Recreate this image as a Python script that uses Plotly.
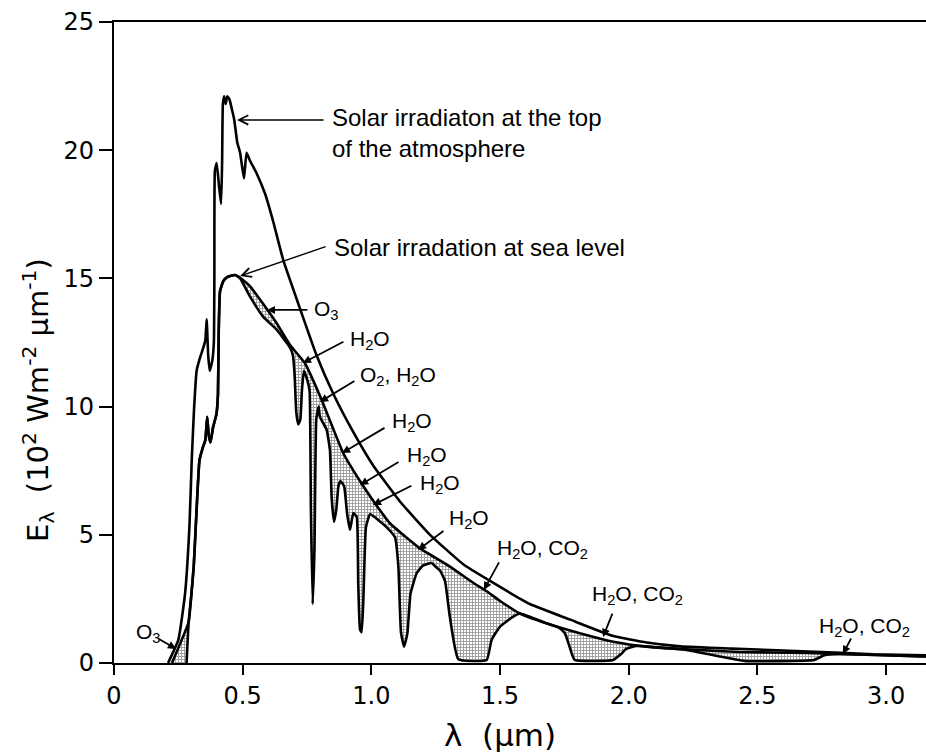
import plotly.graph_objects as go

# Wavelength (um) and spectral irradiance (10^2 W m^-2 um^-1)

# Extraterrestrial (top of atmosphere) spectrum
toa_x = [0.21, 0.25, 0.276, 0.293, 0.302, 0.311, 0.321, 0.334, 0.347, 0.355, 0.36, 0.366,
         0.372, 0.382, 0.388, 0.390, 0.392, 0.399, 0.408, 0.416, 0.420, 0.423, 0.428, 0.434,
         0.440, 0.448, 0.458, 0.467, 0.479, 0.490, 0.505, 0.515, 0.528, 0.554, 0.587, 0.619,
         0.658, 0.72, 0.787, 0.852, 0.93, 1.007, 1.111, 1.228, 1.357, 1.461, 1.616, 1.77,
         1.94, 2.07, 2.2, 2.4, 2.7, 2.95, 3.16]
toa_y = [0.0, 0.9, 2.7, 5.3, 7.9, 9.9, 11.4, 11.9, 12.3, 12.6, 13.4, 12.0,
         11.4, 11.8, 12.5, 15.0, 19.2, 19.5, 18.6, 17.9, 19.5, 21.8, 22.1, 21.8,
         22.1, 22.0, 21.6, 21.2, 20.3, 19.9, 18.9, 19.9, 19.6, 19.1, 18.3, 17.2,
         15.7, 13.9, 12.0, 10.5, 9.0, 7.7, 6.3, 5.0, 3.85, 3.2, 2.3, 1.7,
         1.05, 0.8, 0.65, 0.56, 0.45, 0.34, 0.3]

# Sea-level spectrum without gaseous absorption (scattering only)
clear_x = [0.225, 0.29, 0.30, 0.31, 0.321, 0.332, 0.345, 0.355, 0.362, 0.368, 0.375, 0.385,
           0.398, 0.404, 0.407, 0.412, 0.425, 0.44, 0.47, 0.50, 0.528, 0.58, 0.632, 0.684,
           0.742, 0.807, 0.891, 0.962, 1.014, 1.072, 1.189, 1.305, 1.40, 1.448, 1.50, 1.577,
           1.68, 1.81, 1.94, 2.07, 2.26, 2.43, 2.69, 2.82, 3.16]
clear_y = [0.0, 1.6, 2.6, 3.8, 6.0, 7.9, 8.4, 8.7, 9.6, 8.9, 8.6, 9.2,
           9.7, 10.5, 13.0, 14.5, 14.9, 15.05, 15.13, 14.95, 14.7, 14.0, 13.25, 12.4,
           11.69, 10.26, 8.18, 7.0, 6.23, 5.45, 4.47, 3.76, 3.1, 2.8, 2.42, 1.93,
           1.55, 1.16, 0.83, 0.64, 0.51, 0.43, 0.39, 0.35, 0.25]

# Observed sea-level spectrum
sea_x = [0.282, 0.29, 0.30, 0.31, 0.321, 0.332, 0.345, 0.355, 0.362, 0.368, 0.375, 0.385,
         0.398, 0.404, 0.407, 0.412, 0.425, 0.44, 0.47, 0.49, 0.528, 0.58, 0.632, 0.684,
         0.695, 0.702, 0.708, 0.716, 0.724, 0.73, 0.738, 0.752, 0.76, 0.765, 0.772, 0.779,
         0.786, 0.795, 0.80, 0.826, 0.839, 0.846, 0.855, 0.864, 0.872, 0.88, 0.894, 0.906,
         0.917, 0.93, 0.943, 0.949, 0.956, 0.962, 0.969, 0.979, 0.995, 1.03, 1.059, 1.092,
         1.105, 1.115, 1.127, 1.14, 1.152, 1.176, 1.20, 1.234, 1.25, 1.267, 1.286, 1.305,
         1.338, 1.448, 1.467, 1.50, 1.55, 1.577, 1.68, 1.73, 1.752, 1.77, 1.79, 1.94,
         1.97, 1.99, 2.03, 2.07, 2.22, 2.33, 2.45, 2.72, 2.76, 2.82, 3.16]
sea_y = [0.0, 1.6, 2.6, 3.8, 6.0, 7.9, 8.4, 8.7, 9.6, 8.9, 8.6, 9.2,
         9.7, 10.5, 13.0, 14.5, 14.9, 15.05, 15.13, 15.0, 14.3, 13.5, 13.0, 12.3,
         12.0, 11.2, 9.8, 9.3, 9.5, 10.6, 11.4, 11.0, 10.6, 6.0, 2.3, 4.5,
         9.5, 10.0, 9.6, 9.1, 8.3, 6.4, 5.5, 6.0, 6.9, 7.1, 6.9, 5.8,
         5.2, 5.85, 5.7, 3.1, 1.3, 1.2, 2.5, 5.3, 5.8, 5.55, 5.3, 4.9,
         3.75, 1.2, 0.64, 1.16, 2.7, 3.5, 3.8, 3.9, 3.75, 3.6, 3.2, 1.8,
         0.15, 0.12, 0.9, 1.42, 1.8, 1.93, 1.55, 1.37, 1.16, 0.64, 0.12, 0.12,
         0.35, 0.55, 0.66, 0.64, 0.52, 0.3, 0.08, 0.12, 0.3, 0.35, 0.25]

# Absorption labels: (text, tip x, tip y, text x, text y, arrow tail dx, dy in px)
absorbers = [
    ("O<sub>3</sub>", 0.594, 13.77, 0.769, 13.77, 42, 0),
    ("H<sub>2</sub>O", 0.734, 11.70, 0.909, 12.60, 42, -22),
    ("O<sub>2</sub>, H<sub>2</sub>O", 0.800, 10.18, 0.948, 11.19, 36, -22),
    ("H<sub>2</sub>O", 0.886, 8.19, 1.072, 9.40, 44, -26),
    ("H<sub>2</sub>O", 0.956, 6.94, 1.131, 8.07, 40, -24),
    ("H<sub>2</sub>O", 1.006, 6.16, 1.181, 6.98, 40, -20),
    ("H<sub>2</sub>O", 1.181, 4.41, 1.294, 5.62, 27, -20),
    ("H<sub>2</sub>O, CO<sub>2</sub>", 1.437, 2.85, 1.480, 4.45, 16, -29),
    ("H<sub>2</sub>O, CO<sub>2</sub>", 1.900, 1.01, 1.849, 2.65, 10, -25),
    ("H<sub>2</sub>O, CO<sub>2</sub>", 2.832, 0.35, 2.731, 1.40, 9, -17),
    ("O<sub>3</sub>", 0.241, 0.55, 0.078, 1.17, -19, -11),
]

x_ticks = [0, 0.5, 1.0, 1.5, 2.0, 2.5, 3.0]
x_tick_text = ["0", "0.5", "1.0", "1.5", "2.0", "2.5", "3.0"]
y_ticks = [0, 5, 10, 15, 20, 25]

INK = "black"
LW = 2.6
TEXT_FONT = dict(family="Liberation Sans, Arial, sans-serif", size=24, color=INK)
CHEM_FONT = dict(family="Liberation Sans, Arial, sans-serif", size=21, color=INK)
TICK_FONT = dict(family="DejaVu Sans, sans-serif", size=24, color=INK)

fig = go.Figure()

# stippled area: absorbed by atmospheric gases
fig.add_trace(go.Scatter(
    x=clear_x + sea_x[::-1], y=clear_y + sea_y[::-1],
    mode="lines", fill="toself", line=dict(width=0, color="rgba(0,0,0,0)"),
    fillcolor="white",
    fillpattern=dict(shape="+", size=3, solidity=0.5, fgcolor="#333", bgcolor="white"),
    hoverinfo="skip", showlegend=False))

for xs, ys in [(toa_x, toa_y), (clear_x, clear_y), (sea_x, sea_y)]:
    fig.add_trace(go.Scatter(x=xs, y=ys, mode="lines",
                             line=dict(color=INK, width=LW, shape="spline", smoothing=0.4),
                             hoverinfo="skip", showlegend=False))

ann = []
# main curve labels with open arrowheads
ann.append(dict(x=0.478, y=21.18, ax=88, ay=0, text="", showarrow=True,
                arrowhead=5, arrowsize=1.3, arrowwidth=1.4, arrowcolor=INK))
ann.append(dict(x=0.839, y=20.67, text="Solar irradiaton at the top<br>of the atmosphere",
                showarrow=False, xanchor="left", yanchor="middle", align="left", font=TEXT_FONT))
ann.append(dict(x=0.49, y=15.09, ax=87, ay=-30, text="", showarrow=True,
                arrowhead=5, arrowsize=1.3, arrowwidth=1.4, arrowcolor=INK))
ann.append(dict(x=0.847, y=16.22, text="Solar irradation at sea level",
                showarrow=False, xanchor="left", yanchor="middle", font=TEXT_FONT))

for text, tx, ty, lx, ly, dx, dy in absorbers:
    ann.append(dict(x=tx, y=ty, ax=dx, ay=dy, text="", showarrow=True,
                    arrowhead=2, arrowsize=0.9, arrowwidth=1.8, arrowcolor=INK))
    ann.append(dict(x=lx, y=ly, text=text, showarrow=False, xanchor="left",
                    yanchor="middle", font=CHEM_FONT))

# axis titles
ann.append(dict(x=0, xref="paper", xshift=-76, xanchor="center", y=10.26, yref="y",
                yanchor="middle",
                text="E<sub>λ</sub>  (10<sup>2</sup> Wm<sup>-2</sup> μm<sup>-1</sup>)",
                textangle=-90, showarrow=False, font=dict(TICK_FONT, size=29)))
ann.append(dict(x=1.5, xanchor="center", y=0, yref="paper", yshift=-72, yanchor="middle",
                text="λ  (μm)", showarrow=False, font=dict(TICK_FONT, size=31)))

fig.update_layout(
    width=926, height=754,
    margin=dict(l=114, r=0, t=22, b=91),
    paper_bgcolor="white", plot_bgcolor="white",
    annotations=ann,
    xaxis=dict(range=[0, 3.155], tickvals=x_ticks, ticktext=x_tick_text,
               showgrid=False, zeroline=False, showline=True, linecolor=INK,
               linewidth=2.2, mirror=True, ticks="outside", ticklen=10,
               tickwidth=2.2, tickcolor=INK, tickfont=TICK_FONT),
    yaxis=dict(range=[0, 25], tickvals=y_ticks, showgrid=False, zeroline=False,
               showline=True, linecolor=INK, linewidth=2.2, ticks="outside",
               ticklen=13, tickwidth=2.2, tickcolor=INK, tickfont=TICK_FONT),
)

fig.write_html("out.html")
